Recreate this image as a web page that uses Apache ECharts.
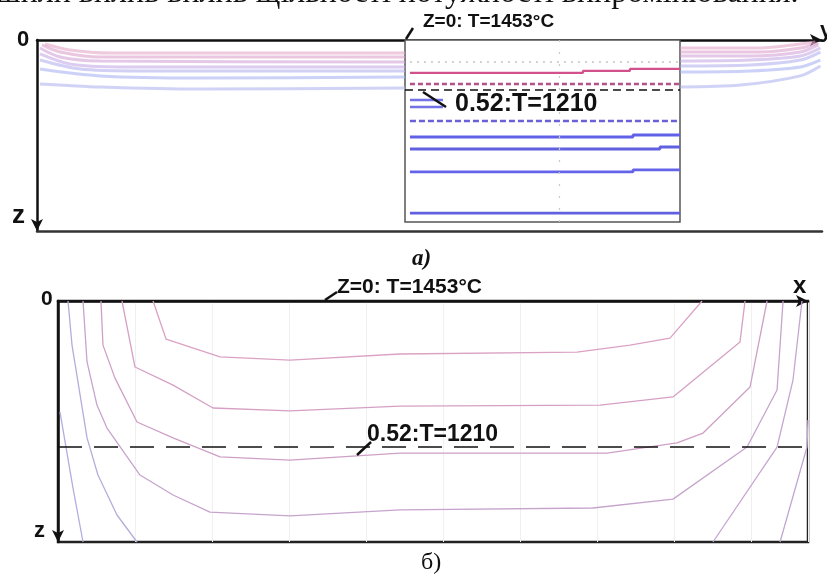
<!DOCTYPE html>
<html>
<head>
<meta charset="utf-8">
<script src="https://cdn.jsdelivr.net/npm/echarts@6/dist/echarts.min.js"></script>
<style>
  html, body { margin: 0; padding: 0; background: #fff; }
  #chart { width: 827px; height: 578px; }
</style>
</head>
<body>
<div id="chart"></div>
<script>
// panel a) - thin layers near the surface, left and right of the zoom window
const layersALeft = [
  [[0.104, 0.021], [0.429, 0.052], [0.948, 0.068], [4.779, 0.068]],
  [[0.065, 0.026], [0.299, 0.063], [0.818, 0.089], [4.779, 0.089]],
  [[0.039, 0.042], [0.299, 0.089], [0.818, 0.110], [4.779, 0.115]],
  [[0.039, 0.073], [0.429, 0.126], [1.078, 0.141], [4.779, 0.141]],
  [[0.039, 0.105], [0.558, 0.152], [1.338, 0.162], [4.779, 0.162]],
  [[0.039, 0.152], [0.818, 0.188], [2.117, 0.199], [4.779, 0.194]],
  [[0.039, 0.230], [0.818, 0.246], [2.117, 0.257], [4.779, 0.251]]
]
const layersARight = [
  [[8.351, 0.042], [9.390, 0.042], [9.909, 0.021], [10.104, 0.010]],
  [[8.351, 0.063], [9.390, 0.063], [9.909, 0.042], [10.143, 0.016]],
  [[8.351, 0.084], [9.260, 0.084], [9.909, 0.063], [10.143, 0.026]],
  [[8.351, 0.110], [9.260, 0.105], [9.909, 0.084], [10.169, 0.042]],
  [[8.351, 0.136], [9.260, 0.131], [9.909, 0.105], [10.169, 0.063]],
  [[8.351, 0.168], [9.260, 0.162], [9.909, 0.141], [10.169, 0.105]],
  [[8.351, 0.246], [9.130, 0.236], [9.909, 0.188], [10.169, 0.136]]
]
const layerColorsA = ['#e4a6c8', '#dca0cc', '#d4a4d8', '#c4aae4', '#b4b0ee', '#aab4f2', '#b0b6f0']

// zoom window of panel a)
const insetGreyDots = [[0.018, 0.121], [1, 0.121]]
const insetPinkStep = [[0.018, 0.181], [0.647, 0.170], [0.818, 0.159], [1, 0.159]]
const insetPinkDash = [[0.018, 0.242], [1, 0.242]]
const insetRef = [[0, 0.275], [1, 0.275]]
const insetBlueShort1 = [[0.018, 0.330], [0.138, 0.330]]
const insetBlueShort2 = [[0.018, 0.368], [0.138, 0.368]]
const insetPurpleDash = [[0.018, 0.445], [1, 0.445]]
const insetBlue1 = [[0.018, 0.533], [0.829, 0.522], [1, 0.522]]
const insetBlue2 = [[0.018, 0.599], [0.927, 0.588], [1, 0.588]]
const insetBlue3 = [[0.018, 0.725], [0.829, 0.714], [1, 0.714]]
const insetBlue4 = [[0.018, 0.951], [1, 0.951]]
const insetMidX = 0.564

// panel б) - isotherms in the cross section
const contB1 = [[1.234, 0], [1.403, 0.158], [2.104, 0.232], [3.013, 0.245], [4.442, 0.220], [6.740, 0.212], [7.429, 0.183], [7.948, 0.154], [8.364, 0]]
const contB2 = [[0.831, 0], [1.0, 0.274], [1.494, 0.349], [2.013, 0.444], [3.013, 0.456], [4.442, 0.436], [7.039, 0.432], [7.987, 0.398], [8.857, 0.170], [8.922, 0]]
const contB3 = [[0.558, 0], [0.584, 0.183], [0.740, 0.320], [1.026, 0.502], [1.494, 0.568], [2.104, 0.647], [3.013, 0.660], [4.442, 0.631], [7.130, 0.631], [8.039, 0.589], [8.377, 0.548], [8.987, 0.357], [9.208, 0]]
const contB4 = [[0.325, 0], [0.377, 0.253], [0.506, 0.432], [0.636, 0.527], [1.065, 0.722], [1.494, 0.805], [1.974, 0.876], [3.013, 0.892], [4.442, 0.867], [6.948, 0.859], [7.987, 0.822], [8.948, 0.606], [9.338, 0.369], [9.416, 0]]
const contB5L = [[0.130, 0], [0.182, 0.183], [0.377, 0.568], [0.519, 0.722], [0.766, 0.888], [1.026, 1]]
const contB5R = [[8.506, 1], [9.338, 0.606], [9.545, 0.328], [9.662, 0]]
const contB6L = [[0.026, 0.461], [0.195, 0.776], [0.325, 1]]
const contB6R = [[9.377, 1], [9.727, 0.606], [9.740, 0.494]]
const refDepthB = 0.606

const chart = echarts.init(document.getElementById('chart'), null, { renderer: 'canvas' })

const noAxisBits = {
  axisTick: { show: false },
  axisLabel: { show: false },
  splitLine: { show: false }
}
const arrowLine = {
  show: true,
  onZero: false,
  symbol: ['none', 'arrow'],
  symbolSize: [9, 12],
  lineStyle: { color: '#111', width: 2.5 }
}
// on the inverted depth axes the arrow has to sit on the other end
const arrowDown = Object.assign({}, arrowLine, { symbol: ['arrow', 'none'] })

function line (data, x, y, color, width, extra) {
  return Object.assign({
    type: 'line',
    xAxisIndex: x,
    yAxisIndex: y,
    data: data,
    symbol: 'none',
    silent: true,
    lineStyle: { color: color, width: width }
  }, extra || {})
}

const series = []
layersALeft.forEach((d, i) => {
  const fade = { smooth: 0.3, lineStyle: { color: layerColorsA[i], width: 3, opacity: 0.6 } }
  series.push(line(d, 0, 0, layerColorsA[i], 3, fade))
  series.push(line(layersARight[i], 0, 0, layerColorsA[i], 3, fade))
})
series.push(line(insetGreyDots, 2, 1, '#c4c4c4', 1.5, {
  lineStyle: { color: '#c4c4c4', width: 1.5, type: [2, 5] },
  markLine: {
    silent: true,
    symbol: 'none',
    label: { show: false },
    lineStyle: { color: '#c8c8c8', type: [2, 10], width: 1.2 },
    data: [{ xAxis: insetMidX }]
  }
}))
series.push(line(insetPinkStep, 2, 1, '#d2508c', 2.2, { step: 'end' }))
series.push(line(insetPinkDash, 2, 1, '#b4508c', 2.5, { lineStyle: { color: '#b4508c', width: 2.5, type: [5, 3] } }))
series.push(line(insetRef, 2, 1, '#111', 1.4, { lineStyle: { color: '#111', width: 1.4, type: [8, 5] } }))
series.push(line(insetBlueShort1, 2, 1, '#7272e6', 2.5))
series.push(line(insetBlueShort2, 2, 1, '#7272e6', 2.5))
series.push(line(insetPurpleDash, 2, 1, '#6a60d8', 2.5, { lineStyle: { color: '#6a60d8', width: 2.5, type: [6, 3] } }))
series.push(line(insetBlue1, 2, 1, '#6060e8', 2.8, { step: 'end' }))
series.push(line(insetBlue2, 2, 1, '#6060e0', 2.8, { step: 'end' }))
series.push(line(insetBlue3, 2, 1, '#6464ea', 2.8, { step: 'end' }))
series.push(line(insetBlue4, 2, 1, '#6060e0', 2.8))

series.push(line(contB1, 3, 2, '#dba2c4', 1.3))
series.push(line(contB2, 3, 2, '#d6a0c4', 1.3))
series.push(line(contB3, 3, 2, '#cfa0c6', 1.3))
series.push(line(contB4, 3, 2, '#c6a4cc', 1.3))
series.push(line(contB5L, 3, 2, '#b6acda', 1.3))
series.push(line(contB5R, 3, 2, '#c4a6d0', 1.3))
series.push(line(contB6L, 3, 2, '#b0aee0', 1.3))
series.push(line(contB6R, 3, 2, '#c0a6d4', 1.3))
series.push(line([[0, refDepthB], [9.74, refDepthB]], 3, 2, '#111', 1.4, {
  lineStyle: { color: '#111', width: 1.4, type: [24, 12] }
}))

function label (text, x, y, size, extra) {
  return {
    type: 'text',
    x: x,
    y: y,
    z: 100,
    style: Object.assign({
      text: text,
      font: 'bold ' + size + 'px "Liberation Sans", Arial, sans-serif',
      fill: '#111',
      textAlign: 'left',
      textVerticalAlign: 'middle',
      align: 'left',
      verticalAlign: 'middle'
    }, extra || {})
  }
}
function stroke (x1, y1, x2, y2) {
  return {
    type: 'line',
    z: 100,
    shape: { x1: x1, y1: y1, x2: x2, y2: y2 },
    style: { stroke: '#111', lineWidth: 2.5 }
  }
}

const option = {
  animation: false,
  backgroundColor: '#fff',
  grid: [
    { left: 37, top: 40, width: 785, height: 191 },
    { left: 405, top: 40, width: 275, height: 182, show: true, backgroundColor: '#fff', borderColor: '#555', borderWidth: 1.5, z: 3 },
    { left: 58, top: 301, width: 750, height: 241, show: true, borderColor: '#222', borderWidth: 2.5 }
  ],
  xAxis: [
    Object.assign({ gridIndex: 0, type: 'value', min: 0, max: 10.19, position: 'top', axisLine: arrowLine }, noAxisBits),
    Object.assign({ gridIndex: 0, type: 'value', min: 0, max: 10.19, position: 'bottom', axisLine: { show: true, onZero: false, lineStyle: { color: '#333', width: 2.5 } } }, noAxisBits),
    { gridIndex: 1, type: 'value', min: 0, max: 1, show: false },
    Object.assign({}, noAxisBits, {
      gridIndex: 2, type: 'value', min: 0, max: 9.74, interval: 1, position: 'top', axisLine: arrowLine,
      splitLine: { show: true, lineStyle: { color: '#f0f0f0', width: 1 } }
    })
  ],
  yAxis: [
    Object.assign({ gridIndex: 0, type: 'value', min: 0, max: 1, inverse: true, axisLine: arrowDown }, noAxisBits),
    { gridIndex: 1, type: 'value', min: 0, max: 1, inverse: true, show: false },
    Object.assign({ gridIndex: 2, type: 'value', min: 0, max: 1, inverse: true, axisLine: arrowDown }, noAxisBits)
  ],
  series: series,
  graphic: [
    label('шили вплив вплив щільності потужності випромінювання.', -4, -6, 32, {
      font: '32px "Liberation Serif", "Times New Roman", serif'
    }),
    label('0', 17, 40, 22),
    label('z', 12, 216, 26),
    label('Z=0: T=1453°C', 423, 22, 19),
    stroke(406, 39, 413, 28),
    label('0.52:T=1210', 455, 104, 25),
    stroke(423, 92, 446, 107),
    label('y', 820, 31, 22),
    label('a)', 412, 259, 23, { font: 'italic bold 23px "Liberation Serif", "Times New Roman", serif' }),
    label('0', 41, 299, 21),
    label('z', 34, 531, 22),
    label('x', 793, 286, 24),
    label('Z=0: T=1453°C', 337, 287, 21),
    stroke(325, 300, 337, 292),
    label('0.52:T=1210', 367, 435, 23),
    stroke(357, 455, 371, 442),
    label('б)', 421, 563, 24, { font: '24px "Liberation Serif", "Times New Roman", serif' })
  ]
}

chart.setOption(option)
window.addEventListener('resize', () => {
  chart.resize()
})
</script>
</body>
</html>
